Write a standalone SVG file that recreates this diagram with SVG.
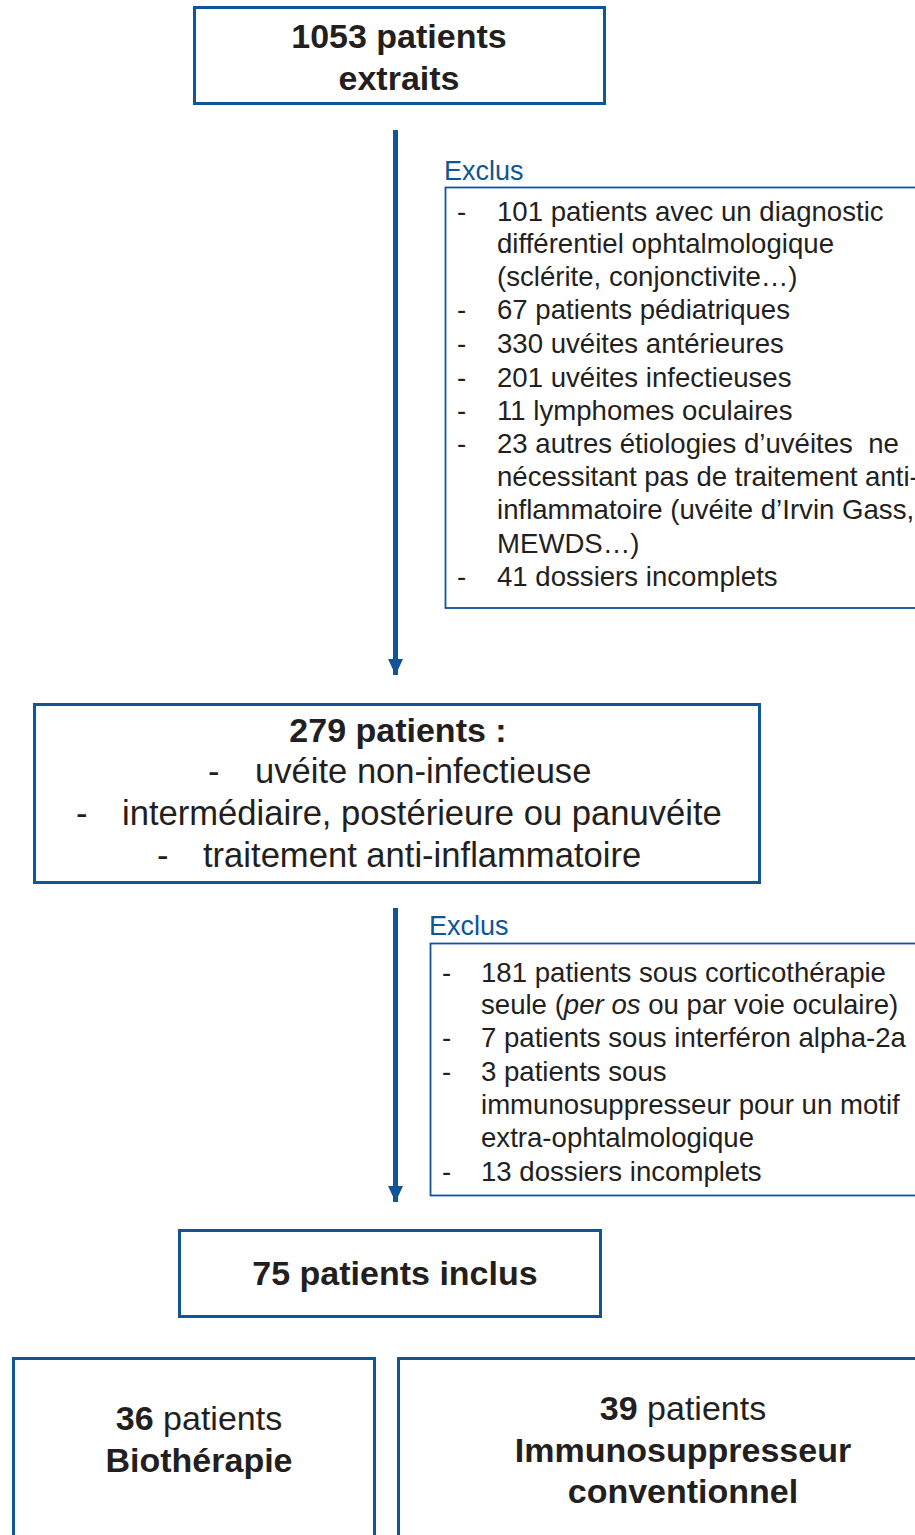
<svg xmlns="http://www.w3.org/2000/svg" width="915" height="1535" viewBox="0 0 915 1535">
<style>
.box{fill:#fff;stroke:#0F5597;stroke-width:3}
.ex{fill:#fff;stroke:#0F5597;stroke-width:1.8}
.t{font-family:"Liberation Sans",Arial,sans-serif;fill:#231F20}
.b{font-weight:bold}
.big{font-size:34px}
.mid{font-size:34.6px}
.li{font-size:27.6px}
.exl{font-family:"Liberation Sans",Arial,sans-serif;font-size:27px;fill:#0F5597}
.arr{stroke:#0F5597;stroke-width:5;fill:none}
</style>
<defs>
<marker id="ah" markerUnits="userSpaceOnUse" markerWidth="16" markerHeight="16" viewBox="0 0 16 16" refX="16" refY="8" orient="auto">
<path d="M0,0.5 L16,8 L0,15.5 Z" fill="#0F5597"/>
</marker>
</defs>
<rect width="915" height="1535" fill="#fff"/>
<g id="connectors">
<line class="arr" x1="395.5" y1="130" x2="395.5" y2="675" marker-end="url(#ah)"/>
<line class="arr" x1="395.5" y1="908" x2="395.5" y2="1202" marker-end="url(#ah)"/>
</g>
<g id="n1053">
<rect class="box" x="194.5" y="7.5" width="410" height="96"/>
<text class="t b big" x="399" y="48" text-anchor="middle">1053 patients</text>
<text class="t b big" x="399" y="90" text-anchor="middle">extraits</text>
</g>
<g id="excl1">
<text class="exl" x="444" y="180">Exclus</text>
<rect class="ex" x="445.5" y="187.5" width="480" height="420.5"/>
<g class="t li">
<text x="457" y="221">-</text><text x="497" y="221">101 patients avec un diagnostic</text>
<text x="497" y="253">différentiel ophtalmologique</text>
<text x="497" y="286">(sclérite, conjonctivite…)</text>
<text x="457" y="319">-</text><text x="497" y="319">67 patients pédiatriques</text>
<text x="457" y="353">-</text><text x="497" y="353">330 uvéites antérieures</text>
<text x="457" y="387">-</text><text x="497" y="387">201 uvéites infectieuses</text>
<text x="457" y="420">-</text><text x="497" y="420">11 lymphomes oculaires</text>
<text x="457" y="453">-</text><text x="497" y="453" xml:space="preserve">23 autres étiologies d’uvéites  ne</text>
<text x="497" y="486">nécessitant pas de traitement anti-</text>
<text x="497" y="519">inflammatoire (uvéite d’Irvin Gass,</text>
<text x="497" y="553">MEWDS…)</text>
<text x="457" y="586">-</text><text x="497" y="586">41 dossiers incomplets</text>
</g>
</g>
<g id="n279">
<rect class="box" x="34.5" y="704.5" width="725" height="178"/>
<text class="t b big" x="398" y="742" text-anchor="middle">279 patients :</text>
<g class="t mid">
<text x="208" y="783">-</text><text x="255" y="783">uvéite non-infectieuse</text>
<text x="76" y="825">-</text><text x="122" y="825">intermédiaire, postérieure ou panuvéite</text>
<text x="157" y="867">-</text><text x="203" y="867">traitement anti-inflammatoire</text>
</g>
</g>
<g id="excl2">
<text class="exl" x="429" y="935">Exclus</text>
<rect class="ex" x="430.5" y="943.5" width="495" height="252"/>
<g class="t li">
<text x="442" y="982">-</text><text x="481" y="982">181 patients sous corticothérapie</text>
<text x="481" y="1014">seule (<tspan font-style="italic">per os</tspan> ou par voie oculaire)</text>
<text x="442" y="1047">-</text><text x="481" y="1047">7 patients sous interféron alpha-2a</text>
<text x="442" y="1081">-</text><text x="481" y="1081">3 patients sous</text>
<text x="481" y="1114">immunosuppresseur pour un motif</text>
<text x="481" y="1147">extra-ophtalmologique</text>
<text x="442" y="1181">-</text><text x="481" y="1181">13 dossiers incomplets</text>
</g>
</g>
<g id="n75">
<rect class="box" x="179.5" y="1230.5" width="421" height="86"/>
<text class="t b big" x="395" y="1285" text-anchor="middle">75 patients inclus</text>
</g>
<g id="nbio">
<rect class="box" x="13.5" y="1358.5" width="361" height="200"/>
<text class="t big" x="199" y="1430" text-anchor="middle"><tspan font-weight="bold">36</tspan> patients</text>
<text class="t b big" x="199" y="1472" text-anchor="middle">Biothérapie</text>
</g>
<g id="nimm">
<rect class="box" x="398.5" y="1358.5" width="540" height="200"/>
<text class="t big" x="683" y="1420" text-anchor="middle"><tspan font-weight="bold">39</tspan> patients</text>
<text class="t b big" x="683" y="1462" text-anchor="middle">Immunosuppresseur</text>
<text class="t b big" x="683" y="1503" text-anchor="middle">conventionnel</text>
</g>
</svg>
